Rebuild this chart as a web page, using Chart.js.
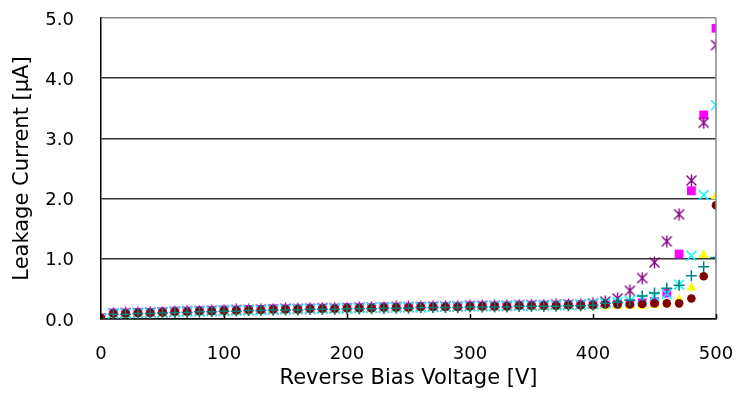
<!DOCTYPE html>
<html>
<head>
<meta charset="utf-8">
<script src="https://cdn.jsdelivr.net/npm/chart.js@4/dist/chart.umd.min.js"></script>
<style>
  html, body { margin: 0; padding: 0; background: #fff; }
  #wrap { width: 737px; height: 405px; }
</style>
</head>
<body>
<div id="wrap"><canvas id="c" width="737" height="405"></canvas></div>
<script>
// Reverse bias voltage [V], one reading every 10 V
const voltages = [0,10,20,30,40,50,60,70,80,90,100,110,120,130,140,150,160,170,180,190,200,
  210,220,230,240,250,260,270,280,290,300,310,320,330,340,350,360,370,380,390,400,
  410,420,430,440,450,460,470,480,490,500];

// Leakage current [uA] per sample
const sampleSquare = [0.02,0.10,0.10,0.11,0.11,0.12,0.13,0.13,0.14,0.14,0.15, 0.15,0.16,0.16,0.17,0.17,0.17,0.18,0.18,0.18,0.19, 0.19,0.19,0.20,0.20,0.20,0.21,0.21,0.21,0.21,0.22, 0.22,0.22,0.22,0.23,0.23,0.23,0.23,0.24,0.24,0.24, 0.25,0.25,0.26,0.27,0.29,0.43,1.08,2.13,3.39,4.83];
const sampleAsterisk = [0.01,0.09,0.10,0.10,0.11,0.11,0.12,0.13,0.13,0.14,0.14, 0.15,0.15,0.16,0.16,0.17,0.17,0.17,0.18,0.18,0.18, 0.19,0.19,0.19,0.20,0.20,0.20,0.21,0.21,0.21,0.22, 0.22,0.22,0.22,0.23,0.23,0.23,0.24,0.24,0.24,0.26, 0.29,0.34,0.47,0.68,0.94,1.29,1.74,2.30,3.26,4.55];
const sampleCross = [0.01,0.09,0.09,0.10,0.10,0.11,0.12,0.12,0.13,0.13,0.14, 0.14,0.15,0.15,0.16,0.16,0.17,0.17,0.17,0.18,0.18, 0.18,0.19,0.19,0.19,0.20,0.20,0.20,0.21,0.21,0.21, 0.21,0.22,0.22,0.22,0.22,0.23,0.23,0.23,0.24,0.25, 0.26,0.28,0.30,0.33,0.38,0.42,0.57,1.05,2.06,3.55];
const sampleTriangle = [0.00,0.07,0.07,0.08,0.08,0.09,0.10,0.10,0.11,0.11,0.12, 0.12,0.13,0.13,0.14,0.14,0.14,0.15,0.15,0.15,0.16, 0.16,0.16,0.17,0.17,0.17,0.18,0.18,0.18,0.18,0.19, 0.19,0.19,0.19,0.20,0.20,0.20,0.20,0.21,0.21,0.21, 0.21,0.22,0.22,0.22,0.23,0.25,0.32,0.52,1.06,2.04];
const sampleCircle = [0.01,0.09,0.09,0.10,0.10,0.11,0.12,0.12,0.13,0.13,0.14, 0.14,0.15,0.15,0.16,0.16,0.16,0.17,0.17,0.17,0.18, 0.18,0.18,0.19,0.19,0.19,0.20,0.20,0.20,0.20,0.21, 0.21,0.21,0.21,0.22,0.22,0.22,0.22,0.23,0.23,0.23, 0.24,0.24,0.24,0.25,0.26,0.26,0.26,0.34,0.71,1.89];
const samplePlus = [0.00,0.08,0.08,0.09,0.09,0.10,0.11,0.11,0.12,0.12,0.13, 0.13,0.14,0.14,0.15,0.15,0.15,0.16,0.16,0.16,0.17, 0.17,0.17,0.18,0.18,0.18,0.19,0.19,0.19,0.19,0.20, 0.20,0.20,0.20,0.21,0.21,0.21,0.21,0.22,0.22,0.23, 0.26,0.28,0.31,0.38,0.43,0.51,0.56,0.72,0.87,1.02];

const yTicks = [0, 1, 2, 3, 4, 5];
const xTicks = [0, 100, 200, 300, 400, 500];

const FONT = '"DejaVu Sans", "Noto Sans", sans-serif';

// asterisk marker: an X with a vertical stroke through it
function asteriskMarker(color) {
  const s = 13, c = document.createElement('canvas');
  c.width = s; c.height = s;
  const g = c.getContext('2d');
  g.strokeStyle = color; g.lineWidth = 1.4;
  g.beginPath();
  g.moveTo(1.5, 1.5); g.lineTo(s - 1.5, s - 1.5);
  g.moveTo(s - 1.5, 1.5); g.lineTo(1.5, s - 1.5);
  g.moveTo(s / 2, 0.5); g.lineTo(s / 2, s - 0.5);
  g.stroke();
  return c;
}

const pts = arr => voltages.map((v, i) => ({ x: v, y: arr[i] }));

// first dataset is painted last (on top)
const datasets = [
  { label: '6', data: pts(samplePlus), pointStyle: 'cross', radius: 5.5,
    borderColor: '#008080', backgroundColor: '#008080', borderWidth: 1.5 },
  { label: '5', data: pts(sampleCircle), pointStyle: 'circle', radius: 4.3,
    borderColor: '#800000', backgroundColor: '#800000', borderWidth: 0 },
  { label: '3', data: pts(sampleCross), pointStyle: 'crossRot', radius: 7,
    borderColor: '#00FFFF', backgroundColor: '#00FFFF', borderWidth: 1.5 },
  { label: '2', data: pts(sampleAsterisk), pointStyle: asteriskMarker('#800080'), radius: 6,
    borderColor: '#800080', backgroundColor: '#800080', borderWidth: 1 },
  { label: '4', data: pts(sampleTriangle), pointStyle: 'triangle', radius: 5.8,
    borderColor: '#FFFF00', backgroundColor: '#FFFF00', borderWidth: 0 },
  { label: '1', data: pts(sampleSquare), pointStyle: 'rect', radius: 6.2,
    borderColor: '#FF00FF', backgroundColor: '#FF00FF', borderWidth: 0 }
].map(d => Object.assign({ showLine: false, pointRadius: d.radius, pointHoverRadius: d.radius }, d));

// frame on the right edge and short inward ticks along the voltage axis
const framePlugin = {
  id: 'frame',
  afterDatasetsDraw(chart) {
    const { ctx, chartArea: a, scales } = chart;
    ctx.save();
    ctx.strokeStyle = '#888';
    ctx.lineWidth = 1.5;
    ctx.beginPath();
    ctx.moveTo(a.right, a.top);
    ctx.lineTo(a.right, a.bottom);
    ctx.stroke();
    ctx.strokeStyle = '#000';
    ctx.lineWidth = 1.5;
    ctx.beginPath();
    xTicks.forEach(v => {
      const px = Math.round(scales.x.getPixelForValue(v)) + 0.5;
      ctx.moveTo(px, a.bottom);
      ctx.lineTo(px, a.bottom - 5);
    });
    ctx.stroke();
    ctx.restore();
  }
};

new Chart(document.getElementById('c'), {
  type: 'scatter',
  data: { datasets },
  plugins: [framePlugin],
  options: {
    responsive: false,
    animation: false,
    layout: { padding: { left: 0, right: 21, top: 18, bottom: 0 } },
    plugins: { legend: { display: false }, tooltip: { enabled: false } },
    scales: {
      x: {
        type: 'linear', min: 0, max: 500,
        afterBuildTicks: s => { s.ticks = xTicks.map(v => ({ value: v })); },
        afterFit: s => { s.height = 86; s.paddingLeft = 0; s.paddingRight = 0; },
        grid: { display: false, drawTicks: false },
        border: { display: true, color: '#000', width: 1.5 },
        ticks: { color: '#000', padding: 25, font: { family: FONT, size: 18 } },
        title: { display: true, text: 'Reverse Bias Voltage [V]', color: '#000',
                 font: { family: FONT, size: 21 }, padding: { top: 14, bottom: 14 } }
      },
      y: {
        type: 'linear', min: 0, max: 5,
        afterBuildTicks: s => { s.ticks = yTicks.map(v => ({ value: v })); },
        afterFit: s => { s.width = 101; s.paddingTop = 0; s.paddingBottom = 0; },
        grid: {
          drawTicks: false,
          color: c => (c.tick && c.tick.value === 5) ? '#888' : '#333',
          lineWidth: 1.5
        },
        border: { display: true, color: '#000', width: 1.5 },
        ticks: { color: '#000', padding: 27, labelOffset: 2, font: { family: FONT, size: 18 },
                 callback: v => v.toFixed(1) },
        title: { display: true, text: 'Leakage Current [μA]', color: '#000',
                 font: { family: FONT, size: 21 }, padding: { top: 10, bottom: 10 } }
      }
    }
  }
});
</script>
</body>
</html>
